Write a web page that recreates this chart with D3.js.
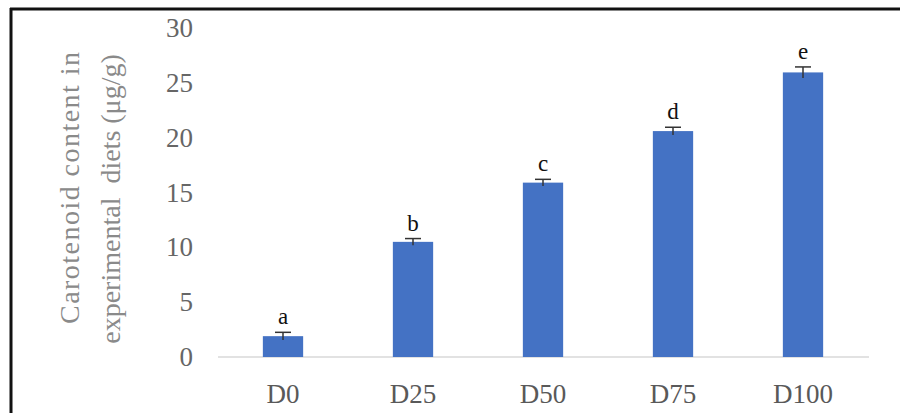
<!DOCTYPE html>
<html>
<head>
<meta charset="utf-8">
<script src="https://cdn.jsdelivr.net/npm/d3@7"></script>
<style>
  html, body { margin: 0; padding: 0; background: #fff; }
  svg { display: block; }
</style>
</head>
<body>
<svg id="chart" width="900" height="413"></svg>
<script>
// Carotenoid content of the experimental diets
const diets = ["D0", "D25", "D50", "D75", "D100"];
const carotenoid = [1.9, 10.5, 15.9, 20.6, 25.95];
const errors = [0.35, 0.3, 0.3, 0.35, 0.5];
const groups = ["a", "b", "c", "d", "e"];
const yTicks = [0, 5, 10, 15, 20, 25, 30];

const svg = d3.select("#chart");
const W = 900, H = 413;
const serif = "'Liberation Serif', 'Times New Roman', serif";

// frame lines (top and left)
svg.append("line").attr("x1", 10).attr("x2", W).attr("y1", 9).attr("y2", 9)
  .attr("stroke", "#111").attr("stroke-width", 3);
svg.append("line").attr("x1", 11).attr("x2", 11).attr("y1", 8).attr("y2", H)
  .attr("stroke", "#111").attr("stroke-width", 3);

const x = d3.scaleBand().domain(diets).range([218, 868]).paddingInner(0.69).paddingOuter(0.345);
const y = d3.scaleLinear().domain([0, 30]).range([357, 28]);

// y tick labels
const yAxis = d3.axisLeft(y).tickValues(yTicks).tickSize(0).tickPadding(0);
const gy = svg.append("g").attr("transform", "translate(193,0)").call(yAxis);
gy.select(".domain").remove();
gy.selectAll("text").attr("font-family", serif).attr("font-size", 27)
  .attr("fill", "#666");

// baseline
svg.append("line").attr("x1", 218).attr("x2", 869).attr("y1", y(0)).attr("y2", y(0))
  .attr("stroke", "#d9d9d9").attr("stroke-width", 1.5);

// x labels
const xAxis = d3.axisBottom(x).tickSize(0).tickPadding(0);
const gx = svg.append("g").attr("transform", `translate(0,${y(0) + 27})`).call(xAxis);
gx.select(".domain").remove();
gx.selectAll("text").attr("font-family", serif).attr("font-size", 27)
  .attr("fill", "#595959");

// bars
svg.append("g").selectAll("rect").data(diets).join("rect")
  .attr("x", d => x(d))
  .attr("width", x.bandwidth())
  .attr("y", (d, i) => y(carotenoid[i]))
  .attr("height", (d, i) => y(0) - y(carotenoid[i]))
  .attr("fill", "#4472C4");

// error bars
const eb = svg.append("g").attr("stroke", "#333").attr("stroke-width", 1.5);
diets.forEach((d, i) => {
  const cx = x(d) + x.bandwidth() / 2;
  const hi = y(carotenoid[i] + errors[i]), lo = y(carotenoid[i] - errors[i]);
  eb.append("line").attr("x1", cx).attr("x2", cx).attr("y1", hi).attr("y2", lo);
  eb.append("line").attr("x1", cx - 8).attr("x2", cx + 8).attr("y1", hi).attr("y2", hi);
});

// significance letters
svg.append("g").selectAll("text").data(diets).join("text")
  .attr("x", d => x(d) + x.bandwidth() / 2)
  .attr("y", (d, i) => y(carotenoid[i] + errors[i]) - 8)
  .attr("text-anchor", "middle")
  .attr("font-family", serif).attr("font-size", 23).attr("fill", "#111")
  .text((d, i) => groups[i]);

// y-axis title, two lines
const title = svg.append("text")
  .attr("transform", "rotate(-90)")
  .attr("text-anchor", "middle")
  .attr("font-family", serif).attr("font-size", 28).attr("fill", "#8a8a8a");
title.append("tspan").attr("x", -188).attr("y", 79)
  .attr("textLength", 272).attr("lengthAdjust", "spacing")
  .text("Carotenoid content in");
title.append("tspan").attr("x", -199).attr("y", 120).text("experimental  diets (μg/g)")
  .style("white-space", "pre");
</script>
</body>
</html>
